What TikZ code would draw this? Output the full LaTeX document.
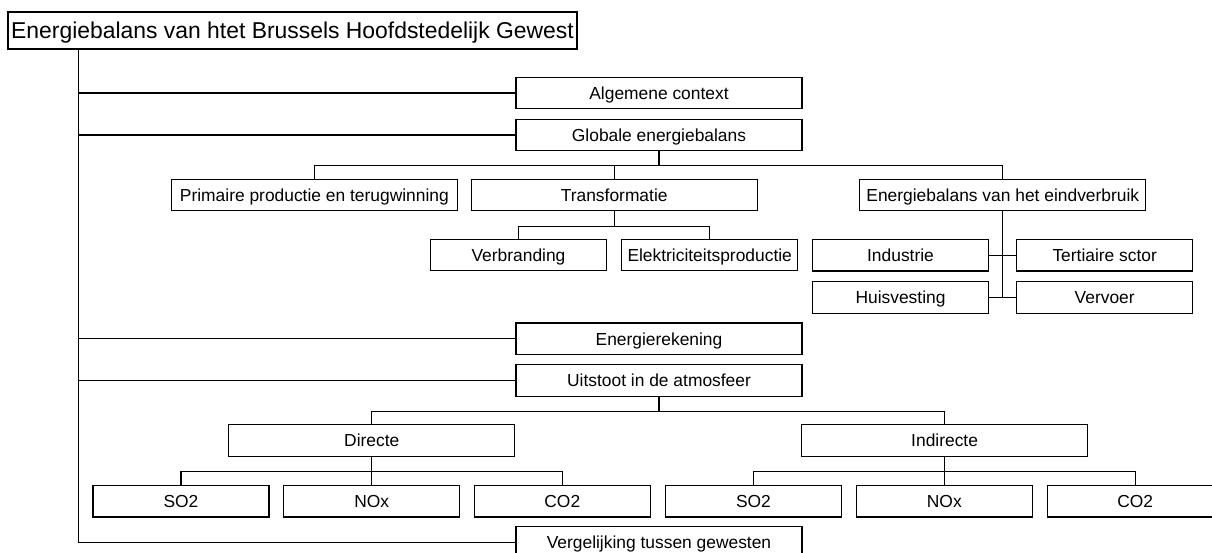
\documentclass[tikz,border=0pt]{standalone}
\usepackage{fontspec}
\setmainfont{Liberation Sans}
\begin{document}
\begin{tikzpicture}[x=1pt, y=1pt, line width=1.3pt,
    box/.style={draw, inner sep=0pt, minimum width=286pt, minimum height=31.5pt,
      text height=12.4pt, text depth=0pt, font=\fontsize{17.4}{20}\selectfont},
    leaf/.style={box, minimum width=176pt}]
  \clip (0,0) rectangle (1212,-553);
  \node[box, minimum width=569pt, minimum height=37pt, text height=16.3pt,
    font=\fontsize{22.9}{27}\selectfont] (title) at (292.5,-30.5)
    {Energiebalans van htet Brussels Hoofdstedelijk Gewest};
  \node[box] (alg) at (659,-93) {Algemene context};
  \node[box] (glob) at (659,-135) {Globale energiebalans};
  \node[box] (prim) at (314.4,-195) {Primaire productie en terugwinning};
  \node[box] (trans) at (614.2,-195) {Transformatie};
  \node[box] (eind) at (1002.8,-195) {Energiebalans van het eindverbruik};
  \node[leaf] (verb) at (518.5,-255) {Verbranding};
  \node[leaf] (elek) at (709.7,-255) {Elektriciteitsproductie};
  \node[leaf] (indu) at (900.5,-255.2) {Industrie};
  \node[leaf] (tert) at (1104.7,-255.2) {Tertiaire sctor};
  \node[leaf] (huis) at (900.5,-297.5) {Huisvesting};
  \node[leaf] (verv) at (1104.7,-297.5) {Vervoer};
  \node[box] (ener) at (659,-338.8) {Energierekening};
  \node[box] (uit) at (659,-380.5) {Uitstoot in de atmosfeer};
  \node[box] (dir) at (371.8,-440.5) {Directe};
  \node[box] (indir) at (944.6,-440.5) {Indirecte};
  \node[leaf] (so2d) at (181,-501.2) {SO2};
  \node[leaf] (noxd) at (371.7,-501.2) {NOx};
  \node[leaf] (co2d) at (562.3,-501.2) {CO2};
  \node[leaf] (so2i) at (753.5,-501.2) {SO2};
  \node[leaf] (noxi) at (944.3,-501.2) {NOx};
  \node[leaf] (co2i) at (1135.2,-501.2) {CO2};
  \node[box] (verg) at (659,-542.5) {Vergelijking tussen gewesten};
  % main trunk
  \coordinate (trunk) at ([xshift=71pt]title.south west);
  \draw (trunk) |- (verg.west);
  \foreach \n in {alg, glob, ener, uit} \draw (trunk |- \n.west) -- (\n.west);
  % sub trees
  \foreach \n in {prim, trans, eind} \draw (glob.south) -- ++(0,-14.3) -| (\n.north);
  \foreach \n in {verb, elek} \draw (trans.south) -- ++(0,-15) -| (\n.north);
  \draw (eind.south) -- (eind.south |- huis.east);
  \draw (indu.east) -- (tert.west);
  \draw (huis.east) -- (verv.west);
  \foreach \n in {dir, indir} \draw (uit.south) -- ++(0,-14.3) -| (\n.north);
  \foreach \n in {so2d, noxd, co2d} \draw (dir.south) -- ++(0,-14.5) -| (\n.north);
  \foreach \n in {so2i, noxi, co2i} \draw (indir.south) -- ++(0,-14.5) -| (\n.north);
\end{tikzpicture}
\end{document}
